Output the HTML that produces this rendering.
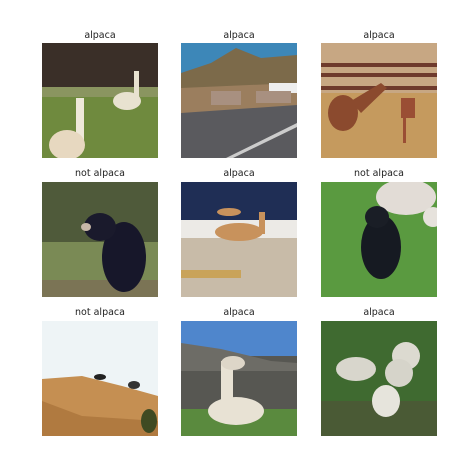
<!DOCTYPE html>
<html><head><meta charset="utf-8"><style>
body{margin:0;width:471px;height:464px;background:#fff;position:relative;overflow:hidden;font-family:"DejaVu Sans","Liberation Sans",sans-serif}
.t{position:absolute;width:116px;text-align:center;font-size:9.5px;color:#222;line-height:12px}
svg.im{position:absolute;width:116px;height:115px}
</style></head><body>

<div class="t" style="left:42px;top:30px">alpaca</div>
<svg class="im" style="left:42px;top:43px" viewBox="0 0 116 115">
<rect width="116" height="115" fill="#6f8a3e"/><rect width="116" height="48" fill="#3a2f28"/>
<rect y="44" width="116" height="10" fill="#8a9560"/>
<ellipse cx="85" cy="58" rx="14" ry="9" fill="#e8e2d0"/><rect x="92" y="28" width="5" height="30" fill="#e8e2d0"/>
<rect x="34" y="55" width="8" height="50" fill="#eee8da"/><ellipse cx="25" cy="102" rx="18" ry="15" fill="#e7d8c0"/>
</svg>

<div class="t" style="left:181px;top:30px">alpaca</div>
<svg class="im" style="left:181px;top:43px" viewBox="0 0 116 115">
<rect width="116" height="115" fill="#5a5a5e"/><rect width="116" height="40" fill="#3d87b8"/>
<polygon points="0,30 30,20 55,5 80,15 116,12 116,50 0,50" fill="#7c6a4a"/>
<polygon points="0,45 116,40 116,62 0,70" fill="#9b7e5e"/>
<rect x="88" y="40" width="28" height="10" fill="#eee"/>
<g fill="#a89080"><rect x="30" y="48" width="30" height="14"/><rect x="75" y="48" width="35" height="12"/></g>
<polygon points="45,115 116,80 116,84 52,115" fill="#ccc"/>
</svg>

<div class="t" style="left:321px;top:30px">alpaca</div>
<svg class="im" style="left:321px;top:43px" viewBox="0 0 116 115">
<rect width="116" height="115" fill="#c59a5e"/><rect width="116" height="50" fill="#c7a783"/>
<g fill="#6e3a2c"><rect y="20" width="116" height="4"/><rect y="30" width="116" height="4"/><rect y="43" width="116" height="4"/></g>
<ellipse cx="22" cy="70" rx="15" ry="18" fill="#8b4a2e"/><polygon points="30,58 60,40 66,45 40,70" fill="#8b4a2e"/>
<rect x="80" y="55" width="14" height="20" fill="#9a4e34"/><rect x="82" y="75" width="3" height="25" fill="#9a4e34"/>
</svg>

<div class="t" style="left:42px;top:168px">not alpaca</div>
<svg class="im" style="left:42px;top:182px" viewBox="0 0 116 115">
<rect width="116" height="115" fill="#4f5a3a"/><rect y="60" width="116" height="40" fill="#7a8a55"/><rect y="98" width="116" height="17" fill="#7b7455"/>
<ellipse cx="82" cy="75" rx="22" ry="35" fill="#17172a"/><ellipse cx="58" cy="45" rx="16" ry="14" fill="#1a1a2c"/>
<ellipse cx="44" cy="45" rx="5" ry="4" fill="#c8b8a8"/>
</svg>

<div class="t" style="left:181px;top:168px">alpaca</div>
<svg class="im" style="left:181px;top:182px" viewBox="0 0 116 115">
<rect width="116" height="115" fill="#c8bba8"/><rect width="116" height="40" fill="#1f2e55"/><rect y="38" width="116" height="18" fill="#eceae6"/>
<ellipse cx="58" cy="50" rx="24" ry="9" fill="#c8925c"/><rect x="78" y="30" width="6" height="22" fill="#c8925c"/>
<ellipse cx="48" cy="30" rx="12" ry="4" fill="#c8925c"/>
<rect x="0" y="88" width="60" height="8" fill="#c9a35a"/>
</svg>

<div class="t" style="left:321px;top:168px">not alpaca</div>
<svg class="im" style="left:321px;top:182px" viewBox="0 0 116 115">
<rect width="116" height="115" fill="#5a9a40"/>
<ellipse cx="85" cy="15" rx="30" ry="18" fill="#e2dcd6"/><ellipse cx="112" cy="35" rx="10" ry="10" fill="#e6e2dc"/>
<ellipse cx="60" cy="65" rx="20" ry="32" fill="#161a22"/><ellipse cx="56" cy="35" rx="12" ry="11" fill="#1a1e26"/>
</svg>

<div class="t" style="left:42px;top:307px">not alpaca</div>
<svg class="im" style="left:42px;top:321px" viewBox="0 0 116 115">
<rect width="116" height="115" fill="#eef4f6"/>
<polygon points="0,58 40,55 80,65 116,75 116,115 0,115" fill="#c58f52"/>
<polygon points="0,80 40,95 116,100 116,115 0,115" fill="#b07a40"/>
<ellipse cx="58" cy="56" rx="6" ry="3" fill="#222"/><ellipse cx="92" cy="64" rx="6" ry="4" fill="#333"/>
<ellipse cx="107" cy="100" rx="8" ry="12" fill="#3f4a22"/>
</svg>

<div class="t" style="left:181px;top:307px">alpaca</div>
<svg class="im" style="left:181px;top:321px" viewBox="0 0 116 115">
<rect width="116" height="115" fill="#575752"/><rect width="116" height="35" fill="#4f86cc"/>
<polygon points="0,22 40,28 90,40 116,42 116,50 0,50" fill="#6d6c66"/>
<rect y="88" width="116" height="27" fill="#5a8a3e"/>
<ellipse cx="55" cy="90" rx="28" ry="14" fill="#e8e2d4"/><rect x="40" y="40" width="12" height="45" fill="#e8e2d4"/>
<ellipse cx="52" cy="42" rx="12" ry="7" fill="#ddd6c8"/>
</svg>

<div class="t" style="left:321px;top:307px">alpaca</div>
<svg class="im" style="left:321px;top:321px" viewBox="0 0 116 115">
<rect width="116" height="115" fill="#3f6a30"/><rect y="80" width="116" height="35" fill="#4a5a35"/>
<ellipse cx="35" cy="48" rx="20" ry="12" fill="#d8d6cc"/><ellipse cx="85" cy="35" rx="14" ry="14" fill="#dcdad0"/>
<ellipse cx="78" cy="52" rx="14" ry="14" fill="#d6d4ca"/><ellipse cx="65" cy="80" rx="14" ry="16" fill="#e6e4dc"/>
</svg>
</body></html>
